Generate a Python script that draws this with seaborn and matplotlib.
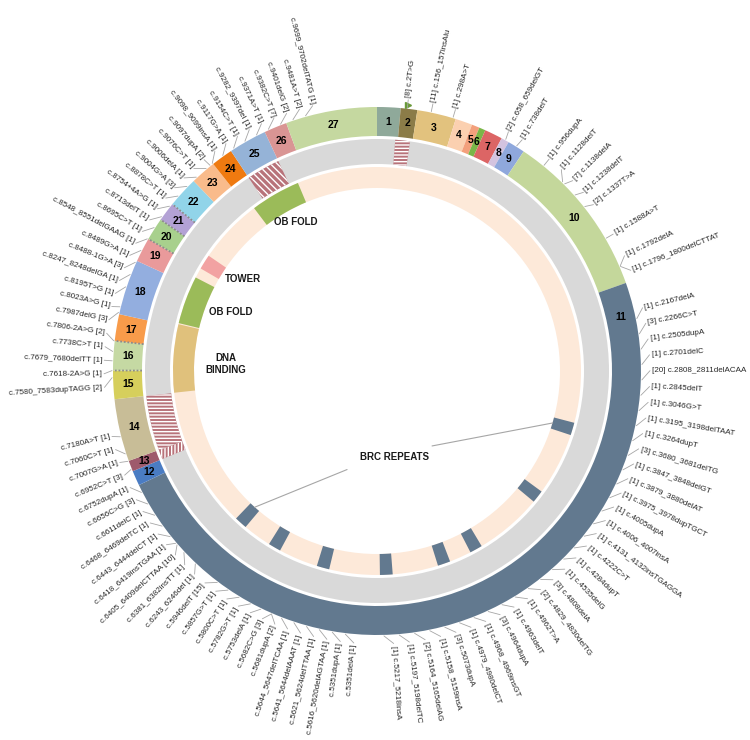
import re
import numpy as np
import seaborn as sns
import matplotlib.pyplot as plt

sns.set_theme(style="white")
plt.rcParams['font.family'] = ['Liberation Sans', 'DejaVu Sans']
plt.rcParams['hatch.linewidth'] = 1.0

# exons: first c. position, drawn size (bp) and colour
exon_cstart = [-200, -40, 68, 317, 426, 476, 517, 632, 682, 794, 1910, 6842, 6938, 7008,
               7436, 7618, 7806, 7977, 8332, 8488, 8633, 8755, 8954, 9118, 9257, 9502, 9649]
exon_bp = [150, 106, 249, 109, 50, 41, 115, 50, 112, 1070, 5060, 96, 70, 400,
           182, 188, 171, 355, 156, 145, 122, 199, 164, 139, 245, 147, 585]
exon_colors = ["#8fa99a", "#8b7c48", "#e2c27e", "#fbd0b0", "#f3a07c", "#7ab648", "#dc6565",
               "#d3c3df", "#8fa8dc", "#c4d79b", "#62798f", "#4a7cc3", "#9e5a6c", "#c8bd97",
               "#d6cf5c", "#c5d9a3", "#f89b4a", "#93aedf", "#e99a9b", "#a8d08d", "#b3a2d5",
               "#91d4e9", "#f9bb8b", "#ef7a10", "#95b3d7", "#d99594", "#c5d8a0"]
dotted_exons = [16, 17, 20, 21, 22]

# variants and number of families
mut_names = ["c.2T>G", "c.156_157insAlu", "c.298A>T", "c.658_659delGT", "c.738delT",
             "c.956dupA", "c.1128delT", "c.1138delA", "c.1238delT", "c.1337T>A", "c.1588A>T",
             "c.1792delA", "c.1796_1800delCTTAT", "c.2167delA", "c.2266C>T", "c.2505dupA",
             "c.2701delC", "c.2808_2811delACAA", "c.2845delT", "c.3046G>T", "c.3195_3198delTAAT",
             "c.3264dupT", "c.3680_3681delTG", "c.3847_3848delGT", "c.3879_3880delAT",
             "c.3975_3978dupTGCT", "c.4005dupA", "c.4006_4007insA", "c.4131_4132insTGAGGA",
             "c.4222C>T", "c.4284dupT", "c.4535delG", "c.4808delA", "c.4829_4830delTG",
             "c.4962T>A", "c.4963delT", "c.4964dupA", "c.4968_4969insGT", "c.4979_4980delCT",
             "c.5073dupA", "c.5158_5159insA", "c.5164_5165delAG", "c.5197_5198delTC",
             "c.5217_5218insA", "c.5351delA", "c.5351dupA", "c.5616_5620delAGTAA",
             "c.5621_5624delTTAA", "c.5641_5644delAAAT", "c.5644_5647delTCAA", "c.5681dupA",
             "c.5682C>G", "c.5753delA", "c.5782G>T", "c.5800C>T", "c.5857G>T", "c.5946delT",
             "c.6243_6246del", "c.6381_6382insTT", "c.6405_6409delCTTAA", "c.6418_6419insTGAA",
             "c.6443_6444delCT", "c.6468_6469delTC", "c.6611delC", "c.6656C>G", "c.6752dupA",
             "c.6952C>T", "c.7007G>A", "c.7060C>T", "c.7180A>T", "c.7580_7583dupTAGG",
             "c.7618-2A>G", "c.7679_7680delTT", "c.7738C>T", "c.7806-2A>G", "c.7987delG",
             "c.8023A>G", "c.8195T>G", "c.8247_8248delGA", "c.8488-1G>A", "c.8489G>A",
             "c.8548_8551delGAAG", "c.8695C>T", "c.8713delT", "c.8754+4A>G", "c.8878C>T",
             "c.9004G>A", "c.9006delA", "c.9076C>T", "c.9097dupA", "c.9098_9099insA",
             "c.9117G>A", "c.9154C>T", "c.9282_9397del", "c.9371A>T", "c.9382C>T",
             "c.9401delG", "c.9481A>T", "c.9699_9702delTATG"]
mut_counts = [8, 11, 1, 2, 1, 1, 1, 7, 1, 2, 1, 1, 1, 1, 3, 1, 1, 20, 1, 1, 1, 1, 3, 1, 1,
              1, 1, 1, 1, 1, 1, 1, 3, 2, 1, 1, 3, 1, 1, 3, 1, 2, 1, 1, 1, 1, 1, 1, 1, 1,
              2, 3, 1, 1, 1, 1, 15, 1, 1, 10, 1, 1, 1, 1, 3, 1, 3, 1, 1, 1, 2, 1, 1, 1,
              2, 3, 1, 1, 1, 3, 1, 1, 1, 1, 1, 1, 3, 1, 1, 2, 1, 1, 1, 1, 1, 7, 2, 2, 1]
n_right = 44  # labels written on the right half of the wheel

# protein domains (c. coordinates, as placed on the wheel)
brc_start = [2880, 3490, 4140, 4420, 4890, 5400, 5820, 6153]
brc_end = [2982, 3592, 4242, 4522, 4992, 5502, 5922, 6255]
domain_names = ["DNA\nBINDING", "OB FOLD", "TOWER", "OB FOLD"]
domain_start = [7437, 8010, 8493, 9156]
domain_end = [8001, 8409, 8616, 9570]
domain_colors = ["#e0c17c", "#9bbb59", "#f2a2a2", "#9bbb59"]

# large rearrangements shown in the grey ring
hatch_start = [-60, 6938, 7008, 9257]
hatch_end = [50, 7007, 7435, 9501]
hatch_pattern = ['-----', '|||||', '-----', '\\\\\\\\\\']

R_EXON = (235, 264)
R_GRAY = (207, 232)
R_DOM = (183, 204)

widths = np.array(exon_bp) / sum(exon_bp) * 360
starts = np.concatenate([[0], np.cumsum(widths)[:-1]])
cend = exon_cstart[1:] + [10258]


def c_to_deg(c):
    i = max(np.searchsorted(exon_cstart, c, side='right') - 1, 0)
    frac = (c - exon_cstart[i]) / (cend[i] - exon_cstart[i])
    return starts[i] + frac * widths[i]


def arc(ax, d0, d1, r, **kw):
    ax.bar(np.deg2rad((d0 + d1) / 2), r[1] - r[0], width=np.deg2rad(d1 - d0),
           bottom=r[0], align='center', linewidth=0, **kw)


def spread(anchors, sep, lo, hi, iters=3000):
    pos = np.clip(np.array(anchors, float), lo, hi)
    for _ in range(iters):
        for i in range(1, len(pos)):
            gap = pos[i] - pos[i - 1]
            if gap < sep:
                pos[i - 1] -= (sep - gap) / 2
                pos[i] += (sep - gap) / 2
        pos = np.clip(pos, lo, hi)
    return pos


fig = plt.figure(figsize=(7.5, 7.4), dpi=100)
ax = fig.add_axes([7 / 750, -1 / 740, 740 / 750, 1], projection='polar')
ax.set_theta_zero_location('N')
ax.set_theta_direction(-1)
ax.set_ylim(0, 370)
ax.set_axis_off()

# exon ring
for k in range(27):
    arc(ax, starts[k], starts[k] + widths[k], R_EXON, color=exon_colors[k])
    mid = starts[k] + widths[k] / 2 if k != 10 else starts[k] + 7
    ax.text(np.deg2rad(mid), sum(R_EXON) / 2, str(k + 1), ha='center', va='center',
            fontsize=7.5, fontweight='bold', color='black')
for e in dotted_exons:
    th = np.deg2rad(starts[e - 1])
    ax.plot([th, th], R_EXON, ls=(0, (1, 1)), color='#8c8c8c', lw=1.3)

# start codon flag
ax.plot(np.deg2rad(c_to_deg(1)), R_EXON[1] + 4, marker='>', color='#6a9a3a', ms=4)

# grey ring with rearrangements
arc(ax, 0, 360, R_GRAY, color='#d9d9d9')
for s, e, h in zip(hatch_start, hatch_end, hatch_pattern):
    ax.bar(np.deg2rad((c_to_deg(s) + c_to_deg(e)) / 2), R_GRAY[1] - R_GRAY[0],
           width=np.deg2rad(c_to_deg(e) - c_to_deg(s)), bottom=R_GRAY[0],
           facecolor='#b8737a', edgecolor='white', hatch=h, linewidth=0)

# domain ring
arc(ax, 0, 360, R_DOM, color='#fde9d9')
for s, e in zip(brc_start, brc_end):
    arc(ax, c_to_deg(s), c_to_deg(e), R_DOM, color='#62798f')
for s, e, col in zip(domain_start, domain_end, domain_colors):
    arc(ax, c_to_deg(s), c_to_deg(e), R_DOM, color=col)

label_theta = [272.7, 291.9, 304.5, 331.5]
label_r = [151, 158, 163, 170]
for name, th, lr in zip(domain_names, label_theta, label_r):
    ax.text(np.deg2rad(th), lr, name, ha='center', va='center',
            fontsize=7, fontweight='bold', color='#1a1a1a', linespacing=1.3)

ax.text(np.deg2rad(168.2), 88, "BRC REPEATS", ha='center', va='center',
        fontsize=7, fontweight='bold', color='#1a1a1a')
line_kw = dict(arrowstyle='-', color='#a6a6a6', lw=0.8, shrinkA=0, shrinkB=0)
for i, start in ((0, (143.7, 93)), (-1, (196.9, 103))):
    tgt = (c_to_deg(brc_start[i]) + c_to_deg(brc_end[i])) / 2
    ax.annotate('', xy=(np.deg2rad(tgt), R_DOM[0]),
                xytext=(np.deg2rad(start[0]), start[1]), arrowprops=line_kw)

# variant labels
anchors = []
for name in mut_names:
    m = re.match(r'c\.(-?\d+)([+-]\d+)?', name)
    c = int(m.group(1))
    if m.group(2):
        c = c - 0.5 if m.group(2).startswith('-') else c + 0.5
    anchors.append(c_to_deg(c))
anchors = np.array(anchors)
label_pos = np.concatenate([spread(anchors[:n_right], 3.33, 4, 176.5),
                            spread(anchors[n_right:], 2.85, 181.5, 352)])
foot = label_pos + np.clip(anchors - label_pos, -2.0, 2.0)

tick_kw = dict(arrowstyle='-', color='#a6a6a6', lw=0.6, shrinkA=0, shrinkB=0)
for i, (name, cnt, f, p) in enumerate(zip(mut_names, mut_counts, foot, label_pos)):
    ax.annotate('', xy=(np.deg2rad(f), R_EXON[1] + 1),
                xytext=(np.deg2rad(p), R_EXON[1] + 9), arrowprops=tick_kw)
    if i < n_right:
        txt, rot, ha = f"[{cnt}] {name}", 90 - p, 'left'
    else:
        txt, rot, ha = f"{name} [{cnt}]", 270 - p, 'right'
    ax.text(np.deg2rad(p), R_EXON[1] + 11, txt, rotation=rot, rotation_mode='anchor',
            ha=ha, va='center', fontsize=5.8, color='#262626')

fig.savefig('out.png', dpi=100, facecolor='white')
